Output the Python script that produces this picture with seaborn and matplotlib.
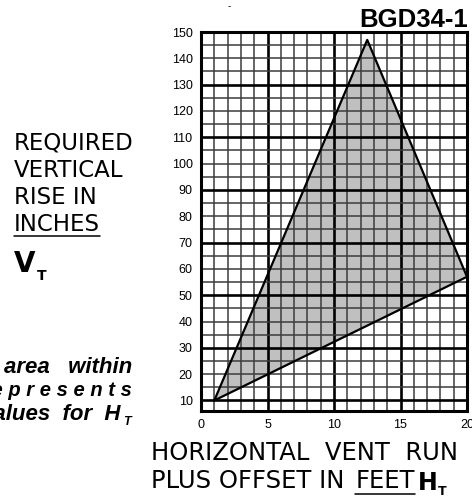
import matplotlib
matplotlib.use('Agg')
import matplotlib.pyplot as plt
import seaborn as sns
from matplotlib.lines import Line2D

# triangle of acceptable values (horizontal run in feet, vertical rise in inches)
hx = [1, 12.5, 20, 1]
vy = [10, 147, 57, 10]
x_ticks = [0, 5, 10, 15, 20]
y_ticks = [10, 20, 30, 40, 50, 60, 70, 80, 90, 100, 110, 120, 130, 140, 150]
x_grid = list(range(0, 21))
y_grid = list(range(10, 151, 5))

W, H = 472, 498
sns.set_theme(style='white')
plt.rcParams['font.family'] = ['Liberation Sans', 'DejaVu Sans']
plt.rcParams['text.color'] = 'black'

fig = plt.figure(figsize=(W / 100, H / 100), dpi=100)
ax = fig.add_axes([201 / W, 1 - 411 / H, 266 / W, 379 / H])

ax.fill(hx, vy, color='#c0c0c0', lw=0, zorder=1)
for gx in x_grid:
    major = gx % 5 == 0
    ax.axvline(gx, color='black' if major else '#3c3c3c', lw=1.9 if major else 1.1, zorder=2)
for gy in y_grid:
    major = (gy - 10) % 20 == 0
    ax.axhline(gy, color='black' if major else '#3c3c3c', lw=1.9 if major else 1.1, zorder=2)
sns.lineplot(x=hx, y=vy, sort=False, estimator=None, color='black', lw=1.6, ax=ax, zorder=4)

ax.set_xlim(0, 20)
ax.set_ylim(6, 150)
ax.set_xticks(x_ticks)
ax.set_yticks(y_ticks)
ax.tick_params(length=0, labelsize=9, colors='black', pad=6)
ax.set_xlabel('')
ax.set_ylabel('')
for s in ax.spines.values():
    s.set_visible(True)
    s.set_color('black')
    s.set_linewidth(2.2)
    s.set_zorder(5)

renderer = fig.canvas.get_renderer()


def put(x, y, s, **kw):
    t = fig.text(x / W, 1 - y / H, s, va='baseline', color='black', **kw)
    return t.get_window_extent(renderer)


def underline(bb, y):
    fig.add_artist(Line2D([bb.x0 / W, bb.x1 / W], [1 - y / H] * 2,
                          transform=fig.transFigure, color='black', lw=1.1))


dv = ['DejaVu Sans']
put(14, 150, 'REQUIRED', fontsize=16.5, family=dv)
put(14, 177, 'VERTICAL', fontsize=16.5, family=dv)
put(14, 204, 'RISE IN', fontsize=16.5, family=dv)
bb = put(14, 231, 'INCHES', fontsize=16.5, family=dv)
underline(bb, 236)
bb = put(14, 272, 'V', fontsize=20, weight='bold', family=dv)
put(bb.x1 + 1, 280, 'T', fontsize=10, weight='bold', family=dv)

put(151, 460, 'HORIZONTAL  VENT  RUN', fontsize=17.5, family=dv)
bb = put(151, 488, 'PLUS OFFSET IN ', fontsize=17.5, family=dv)
bb2 = put(bb.x1 + 3, 488, 'FEET', fontsize=17.5, family=dv)
underline(bb2, 494)
bb3 = put(bb2.x1 + 3, 490, 'H', fontsize=17, weight='bold', family=dv)
put(bb3.x1 + 1, 495, 'T', fontsize=9, weight='bold', family=dv)

put(132, 373, 'area   within', fontsize=16, weight='bold', style='italic', ha='right')
put(132, 396, 'r e p r e s e n t s', fontsize=14.5, weight='bold', style='italic', ha='right')
put(121, 420, 'values  for  H', fontsize=16, weight='bold', style='italic', ha='right')
put(123, 425, 'T', fontsize=9, weight='bold', style='italic')

put(468, 27, 'BGD34-1', fontsize=18.5, weight='bold', ha='right')
put(228, 9, '-', fontsize=7)

fig.savefig('out.png', dpi=100)
